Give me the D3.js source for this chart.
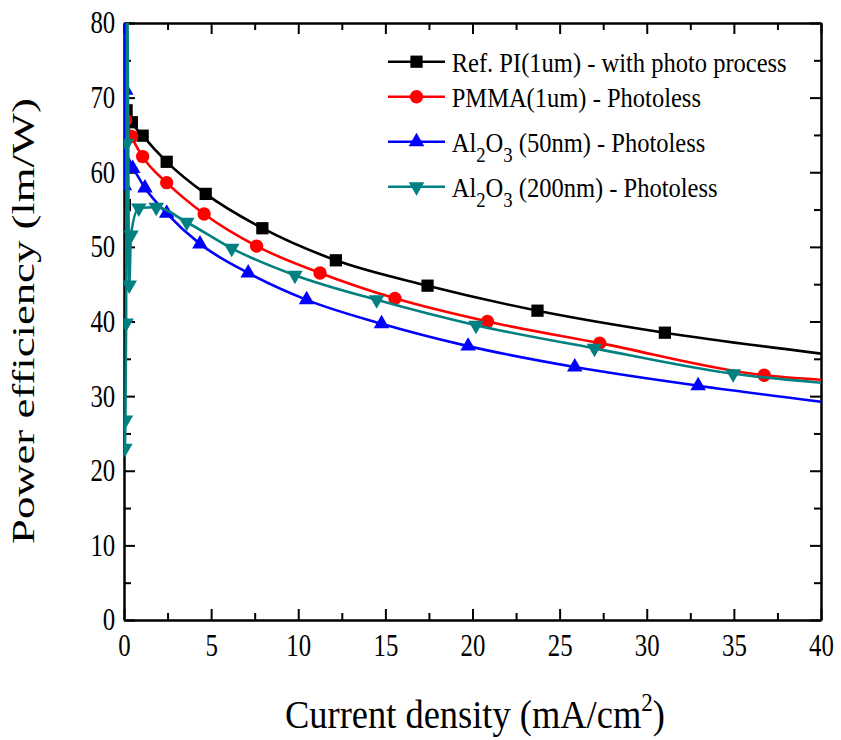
<!DOCTYPE html>
<html>
<head>
<meta charset="utf-8">
<script src="https://cdn.jsdelivr.net/npm/d3@7/dist/d3.min.js"></script>
<style>
body { margin: 0; background: #fff; }
svg text { font-family: "Liberation Serif", "Times New Roman", Times, serif; fill: #000; }
</style>
</head>
<body>
<svg id="chart" width="841" height="740"></svg>
<script>
// values: [current density (mA/cm2), power efficiency (lm/W)]
var xMajor = [0, 5, 10, 15, 20, 25, 30, 35, 40];
var xMinor = [2.5, 7.5, 12.5, 17.5, 22.5, 27.5, 32.5, 37.5];
var yMajor = [0, 10, 20, 30, 40, 50, 60, 70, 80];
var yMinor = [5, 15, 25, 35, 45, 55, 65, 75];

var refPI = [[0.05, 55.6], [0.15, 68.3], [0.45, 66.7], [1.07, 64.9], [2.45, 61.4], [4.69, 57.1],
  [7.94, 52.5], [12.16, 48.2], [17.42, 44.8], [23.73, 41.45], [31.04, 38.5], [40, 35.7]];
var pmma = [[0.1, 67.0], [0.44, 64.8], [1.07, 62.1], [2.45, 58.6], [4.6, 54.4], [7.61, 50.1],
  [11.25, 46.5], [15.55, 43.1], [20.86, 40.0], [27.3, 37.1], [36.74, 32.8], [40, 32.2]];
var al50 = [[0.02, 58.2], [0.05, 84], [0.1, 71.0], [0.2, 61.2], [0.5, 60.5], [1.2, 57.9],
  [2.45, 54.5], [4.36, 50.4], [7.13, 46.5], [10.48, 42.9], [14.78, 39.7], [19.75, 36.7],
  [25.87, 33.9], [32.95, 31.4], [40, 29.25]];
var al200 = [[0.05, 23.0], [0.08, 26.8], [0.12, 39.8], [0.15, 63.9], [0.18, 84], [0.3, 44.9],
  [0.4, 51.6], [0.85, 55.2], [1.85, 55.3], [3.6, 53.3], [6.18, 49.8], [9.81, 46.2],
  [14.5, 42.9], [20.2, 39.5], [27.0, 36.4], [34.96, 33.0], [40, 31.8]];

var seriesNames = ["Ref. PI(1um) - with photo process", "PMMA(1um) - Photoless",
  "Al2O3 (50nm) - Photoless", "Al2O3 (200nm) - Photoless"];
var seriesColors = ["#000000", "#ff0000", "#0000ff", "#008080"];
var seriesMarkers = ["square", "circle", "triangle", "down"];
var seriesData = [refPI, pmma, al50, al200];

var margin = { top: 23, right: 20, bottom: 120, left: 124 },
    width = 821 - margin.left,
    height = 620 - margin.top;

var svg = d3.select("#chart");

var x = d3.scaleLinear().domain([0, 40]).range([margin.left, margin.left + width]);
var y = d3.scaleLinear().domain([0, 80]).range([margin.top + height, margin.top]);

svg.append("defs").append("clipPath").attr("id", "plotclip")
  .append("rect")
  .attr("x", x(0)).attr("y", y(80))
  .attr("width", x(40) - x(0)).attr("height", y(0) - y(80));

// axes (ticks point inward)
function styleAxis(g) {
  g.attr("font-family", null);
  g.select(".domain").attr("stroke", "#000").attr("stroke-width", 2);
  g.selectAll(".tick line").attr("stroke", "#000").attr("stroke-width", 2);
}

var labelScale = 0.8;

svg.append("g")
  .attr("transform", `translate(0,${y(0)})`)
  .call(d3.axisBottom(x).tickValues(xMajor).tickSize(-11).tickSizeOuter(0).tickPadding(14))
  .call(styleAxis)
  .call(g => g.selectAll(".tick text")
    .attr("font-size", 31)
    .attr("transform", `scale(${labelScale},1)`));
svg.append("g")
  .attr("transform", `translate(0,${y(0)})`)
  .call(d3.axisBottom(x).tickValues(xMinor).tickSize(-7).tickSizeOuter(0).tickFormat(""))
  .call(styleAxis);

svg.append("g")
  .attr("transform", `translate(0,${y(80)})`)
  .call(d3.axisTop(x).tickValues(xMajor).tickSize(-11).tickSizeOuter(0).tickFormat(""))
  .call(styleAxis);
svg.append("g")
  .attr("transform", `translate(0,${y(80)})`)
  .call(d3.axisTop(x).tickValues(xMinor).tickSize(-7).tickSizeOuter(0).tickFormat(""))
  .call(styleAxis);

svg.append("g")
  .attr("transform", `translate(${x(0)},0)`)
  .call(d3.axisLeft(y).tickValues(yMajor).tickSize(-11).tickSizeOuter(0).tickPadding(11))
  .call(styleAxis)
  .call(g => g.selectAll(".tick text")
    .attr("font-size", 31)
    .attr("transform", `scale(${labelScale},1)`));
svg.append("g")
  .attr("transform", `translate(${x(0)},0)`)
  .call(d3.axisLeft(y).tickValues(yMinor).tickSize(-7).tickSizeOuter(0).tickFormat(""))
  .call(styleAxis);

svg.append("g")
  .attr("transform", `translate(${x(40)},0)`)
  .call(d3.axisRight(y).tickValues(yMajor).tickSize(-11).tickSizeOuter(0).tickFormat(""))
  .call(styleAxis);
svg.append("g")
  .attr("transform", `translate(${x(40)},0)`)
  .call(d3.axisRight(y).tickValues(yMinor).tickSize(-7).tickSizeOuter(0).tickFormat(""))
  .call(styleAxis);

// markers
function markerPath(kind) {
  if (kind == "square") return d3.symbol().type(d3.symbolSquare).size(150)();
  if (kind == "circle") return d3.symbol().type(d3.symbolCircle).size(140)();
  return d3.symbol().type(d3.symbolTriangle).size(105)();
}

var line = d3.line()
  .x(d => x(d[0]))
  .y(d => y(d[1]))
  .curve(d3.curveMonotoneX);

var plot = svg.append("g").attr("clip-path", "url(#plotclip)");

seriesData.forEach(function (data, i) {
  plot.append("path")
    .datum(data)
    .attr("fill", "none")
    .attr("stroke", seriesColors[i])
    .attr("stroke-width", 2.6)
    .attr("stroke-linejoin", "round")
    .attr("d", line);

  plot.selectAll(".m" + i)
    .data(data.filter(d => d[0] < 40))
    .enter().append("path")
    .attr("class", "m" + i)
    .attr("d", markerPath(seriesMarkers[i]))
    .attr("fill", seriesColors[i])
    .attr("transform", d => `translate(${x(d[0])},${y(d[1])})` +
      (seriesMarkers[i] == "down" ? " rotate(180)" : ""));
});

// legend
var legendRows = [61.7, 96.7, 141.7, 186.7];
var legend = svg.append("g");
var legendTexts = [];
seriesNames.forEach(function (name, i) {
  var row = legend.append("g").attr("transform", `translate(388,${legendRows[i]})`);
  row.append("line")
    .attr("x1", 0).attr("x2", 57)
    .attr("stroke", seriesColors[i]).attr("stroke-width", 2.6);
  row.append("path")
    .attr("d", markerPath(seriesMarkers[i]))
    .attr("fill", seriesColors[i])
    .attr("transform", "translate(28.5,0)" + (seriesMarkers[i] == "down" ? " rotate(180)" : ""));
  var t = row.append("text")
    .attr("x", 0).attr("y", 0)
    .attr("font-size", 27.5);
  // split Al2O3 into subscripts
  var parts = name.split(/(Al2O3)/);
  var shift = 0;
  parts.forEach(function (p) {
    if (p == "Al2O3") {
      t.append("tspan").text("Al");
      t.append("tspan").attr("font-size", 21).attr("dy", 10).text("2");
      t.append("tspan").attr("dy", -10).text("O");
      t.append("tspan").attr("font-size", 21).attr("dy", 10).text("3");
      shift = -10;
    } else if (p.length) {
      t.append("tspan").attr("dy", shift).text(p);
      shift = 0;
    }
  });
  legendTexts.push(t);
});
var legendScale = 335 / legendTexts[0].node().getComputedTextLength();
legendTexts.forEach(function (t) {
  t.attr("transform", `translate(63.7,10) scale(${legendScale},1)`);
});

// axis titles
var xTitle = svg.append("text")
  .attr("text-anchor", "middle")
  .attr("font-size", 41);
xTitle.append("tspan").text("Current density (mA/cm");
xTitle.append("tspan").attr("font-size", 26).attr("dy", -17).text("2");
xTitle.append("tspan").attr("dy", 17).text(")");
var xs = 380 / xTitle.node().getComputedTextLength();
xTitle.attr("transform", `translate(475,728) scale(${xs},1)`);

var yTitle = svg.append("text")
  .attr("text-anchor", "middle")
  .attr("font-size", 32)
  .text("Power efficiency (lm/W)");
var ys = 446 / yTitle.node().getComputedTextLength();
yTitle.attr("transform", `translate(34,321) rotate(-90) scale(${ys},1)`);
</script>
</body>
</html>
